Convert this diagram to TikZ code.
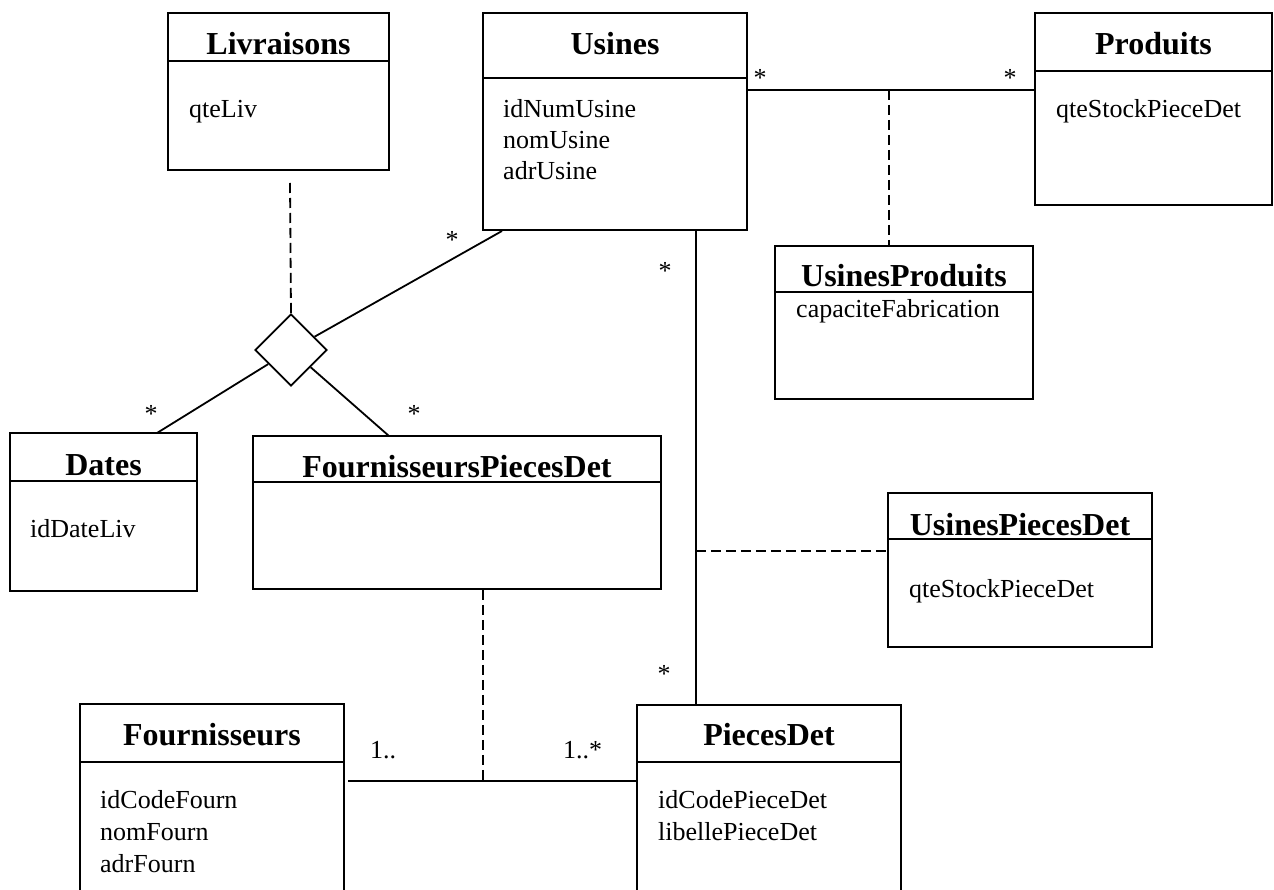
\documentclass[tikz,border=0pt]{standalone}
\usepackage{fontspec}
\setmainfont{Liberation Serif}
\usetikzlibrary{shapes.geometric}
\begin{document}
\begin{tikzpicture}[x=1pt,y=-1pt,
  cls/.style={draw, line width=1.8pt, inner sep=0pt},
  sep/.style={line width=1.8pt},
  ttl/.style={font=\fontsize{32}{38}\selectfont\bfseries, anchor=base, inner sep=0pt},
  att/.style={font=\fontsize{26}{31}\selectfont, anchor=base west, inner sep=0pt},
  mult/.style={font=\fontsize{26}{31}\selectfont, anchor=base, inner sep=0pt},
  multw/.style={font=\fontsize{26}{31}\selectfont, anchor=base west, inner sep=0pt},
  assoc/.style={line width=1.8pt},
  dep/.style={line width=1.8pt, dash pattern=on 10pt off 5pt}]
\useasboundingbox (0,0) rectangle (1274,890);
\clip (0,0) rectangle (1274,890);

% class boxes
\node[cls, minimum width=221pt, minimum height=157pt] (liv) at (278.5,91.5) {};
\node[cls, minimum width=264pt, minimum height=217pt] (usi) at (615,121.5) {};
\node[cls, minimum width=237pt, minimum height=192pt] (pro) at (1153.5,109) {};
\node[cls, minimum width=258pt, minimum height=153pt] (upr) at (904,322.5) {};
\node[cls, minimum width=187pt, minimum height=158pt] (dat) at (103.5,512) {};
\node[cls, minimum width=408pt, minimum height=153pt] (fpd) at (457,512.5) {};
\node[cls, minimum width=264pt, minimum height=154pt] (upd) at (1020,570) {};
\node[cls, minimum width=264pt, minimum height=196pt] (fou) at (212,802) {};
\node[cls, minimum width=264pt, minimum height=195pt] (pcd) at (769,802.5) {};

% header separators
\draw[sep] (liv.west |- 0,61) -- (liv.east |- 0,61);
\draw[sep] (usi.west |- 0,78) -- (usi.east |- 0,78);
\draw[sep] (pro.west |- 0,71) -- (pro.east |- 0,71);
\draw[sep] (upr.west |- 0,292) -- (upr.east |- 0,292);
\draw[sep] (dat.west |- 0,481) -- (dat.east |- 0,481);
\draw[sep] (fpd.west |- 0,482) -- (fpd.east |- 0,482);
\draw[sep] (upd.west |- 0,539) -- (upd.east |- 0,539);
\draw[sep] (fou.west |- 0,762) -- (fou.east |- 0,762);
\draw[sep] (pcd.west |- 0,762) -- (pcd.east |- 0,762);

% titles
\node[ttl] (livT) at (278.5,55) {Livraisons};
\node[ttl] (usiT) at (615,55) {Usines};
\node[ttl] (proT) at (1153.5,55) {Produits};
\node[ttl] (uprT) at (904,287) {UsinesProduits};
\node[ttl] (datT) at (103.5,475) {Dates};
\node[ttl] (fpdT) at (457,477) {FournisseursPiecesDet};
\node[ttl] (updT) at (1020,535) {UsinesPiecesDet};
\node[ttl] (fouT) at (212,745) {Fournisseurs};
\node[ttl] (pcdT) at (769,745) {PiecesDet};

% attributes
\node[att] (a1) at (189,118) {qteLiv};
\node[att] (a2) at (503,118) {idNumUsine};
\node[att] (a3) at (503,149) {nomUsine};
\node[att] (a4) at (503,180) {adrUsine};
\node[att] (a5) at (1056,118) {qteStockPieceDet};
\node[att] (a6) at (796,318) {capaciteFabrication};
\node[att] (a7) at (30,537) {idDateLiv};
\node[att] (a8) at (909,597) {qteStockPieceDet};
\node[att] (a9) at (100,808) {idCodeFourn};
\node[att] (a10) at (100,840) {nomFourn};
\node[att] (a11) at (100,872) {adrFourn};
\node[att] (a12) at (658,808) {idCodePieceDet};
\node[att] (a13) at (658,840) {libellePieceDet};

% ternary association diamond
\node[draw, diamond, shape aspect=1, minimum width=72pt, minimum height=72pt, inner sep=0pt, line width=1.8pt] (d) at (291,350) {};

% connector end points
\coordinate (livB) at (290,183);
\coordinate (usiD) at (502,231);
\coordinate (datD) at (157,433);
\coordinate (fpdD) at (389,436);
\coordinate (upJ) at (889,90);
\coordinate (usiB) at (696,230);
\coordinate (updJ) at (696,551);
\coordinate (fpJ) at (483,781);
\coordinate (fouR) at (348,781);

% connectors
\draw[dep] (livB) -- (d.north);
\draw[assoc] (d) -- (usiD);
\draw[assoc] (d) -- (datD);
\draw[assoc] (d) -- (fpdD);
\draw[assoc] (usi.east |- upJ) -- (pro.west |- upJ);
\draw[dep] (upJ) -- (upr.north -| upJ);
\draw[assoc] (usiB) -- (pcd.north -| usiB);
\draw[dep] (updJ) -- (upd.west |- updJ);
\draw[assoc] (fouR) -- (pcd.west |- fouR);
\draw[dep] (fpd.south -| fpJ) -- (fpJ);

% multiplicities
\node[mult] (m1) at (452,249) {*};
\node[mult] (m2) at (151,422) {*};
\node[mult] (m3) at (414,422) {*};
\node[mult] (m4) at (760,87) {*};
\node[mult] (m5) at (1010,87) {*};
\node[mult] (m6) at (665,280) {*};
\node[mult] (m7) at (664,682) {*};
\node[multw] (m8) at (370,758) {1..};
\node[multw] (m9) at (563,758) {1..*};
\end{tikzpicture}
\end{document}
